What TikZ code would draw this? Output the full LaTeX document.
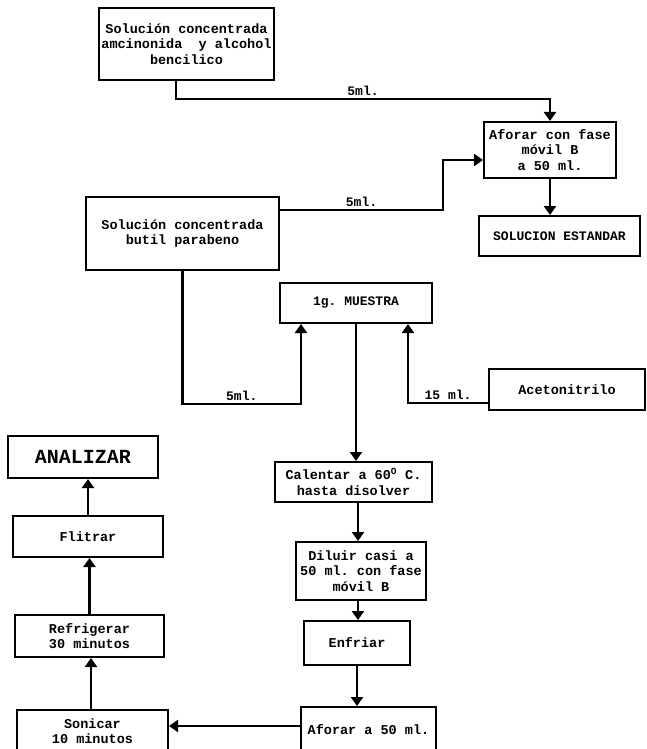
\documentclass[tikz,border=0pt]{standalone}
\usepackage{fontspec}
\setmonofont{Liberation Mono}
\usetikzlibrary{arrows.meta}

\begin{document}
\begin{tikzpicture}[x=1pt,y=-1pt,
    caja/.style={draw,line width=2pt,inner sep=2pt,align=center,font=\ttfamily\bfseries\fontsize{13.5}{15.5}\selectfont},
    flujo/.style={line width=2.4pt,-{Triangle[width=12pt,length=9pt]}},
    etiq/.style={font=\ttfamily\bfseries\fontsize{13}{14}\selectfont,above,inner sep=2pt}]
    \useasboundingbox (0,0) rectangle (646,749);
    \node[caja,minimum width=175pt,minimum height=72pt] (sol1) at (186.5,44) {Solución concentrada\\amcinonida\ \ y alcohol\\bencilico};
    \node[caja,minimum width=132pt,minimum height=56pt] (afo1) at (550,150) {Aforar con fase\\móvil B\\a 50 ml.};
    \node[caja,minimum width=161pt,minimum height=40pt,font=\ttfamily\bfseries\fontsize{13}{14}\selectfont] (est) at (559.5,236) {SOLUCION ESTANDAR};
    \node[caja,minimum width=193pt,minimum height=73pt] (sol2) at (182.5,233.5) {Solución concentrada\\butil parabeno};
    \node[caja,minimum width=152pt,minimum height=40pt,font=\ttfamily\bfseries\fontsize{13}{14}\selectfont] (mue) at (356,303) {1g. MUESTRA};
    \node[caja,minimum width=156pt,minimum height=41pt] (ace) at (567,389.5) {Acetonitrilo};
    \node[caja,minimum width=150pt,minimum height=42pt,font=\ttfamily\bfseries\fontsize{20}{20}\selectfont] (ana) at (83,457) {ANALIZAR};
    \node[caja,minimum width=157pt,minimum height=40pt] (cal) at (353.5,482) {Calentar a 60\textsuperscript{O} C.\\hasta disolver};
    \node[caja,minimum width=130pt,minimum height=58pt] (dil) at (361,571) {Diluir casi a\\50 ml. con fase\\móvil B};
    \node[caja,minimum width=150pt,minimum height=41pt] (fli) at (88,536.5) {Flitrar};
    \node[caja,minimum width=149pt,minimum height=42pt] (ref) at (89.5,636) {Refrigerar\\30 minutos};
    \node[caja,minimum width=106pt,minimum height=44pt] (enf) at (357,643) {Enfriar};
    \node[caja,minimum width=135pt,minimum height=45pt] (afo2) at (368.5,729.5) {Aforar a 50 ml.};
    \node[caja,minimum width=151pt,minimum height=42pt] (son) at (92.5,731) {Sonicar\\10 minutos};
    \draw[flujo] ([xshift=-10.5pt]sol1.south) -- ++(0,18) -| node[etiq,pos=0.25] {5ml.} (afo1.north);
    \draw[flujo] (afo1.south) -- (afo1.south |- est.north);
    \draw[flujo] ([yshift=23.5pt]sol2.east) -- node[etiq] {5ml.} ++(163,0) |- ([yshift=-10pt]afo1.west);
    \draw[flujo] (sol2.south) -- ++(0,133) -| node[etiq,pos=0.25] {5ml.} ([xshift=-55pt]mue.south);
    \draw[flujo] ([yshift=-13.5pt]ace.west) -| node[etiq,pos=0.25] {15 ml.} ([xshift=52pt]mue.south);
    \draw[flujo] (mue.south) -- (mue.south |- cal.north);
    \draw[flujo] ([xshift=4.5pt]cal.south) -- ([xshift=4.5pt]cal.south |- dil.north);
    \draw[flujo] ([xshift=-3pt]dil.south) -- ([xshift=-3pt]dil.south |- enf.north);
    \draw[flujo] (enf.south) -- (enf.south |- afo2.north);
    \draw[flujo] ([yshift=3.5pt]afo2.west) -- ([yshift=3.5pt]afo2.west -| son.east);
    \draw[flujo] ([xshift=-1.5pt]son.north) -- ([xshift=-1.5pt]son.north |- ref.south);
    \draw[flujo] (ref.north) -- (ref.north |- fli.south);
    \draw[flujo] (fli.north) -- (fli.north |- ana.south);
\end{tikzpicture}
\end{document}
